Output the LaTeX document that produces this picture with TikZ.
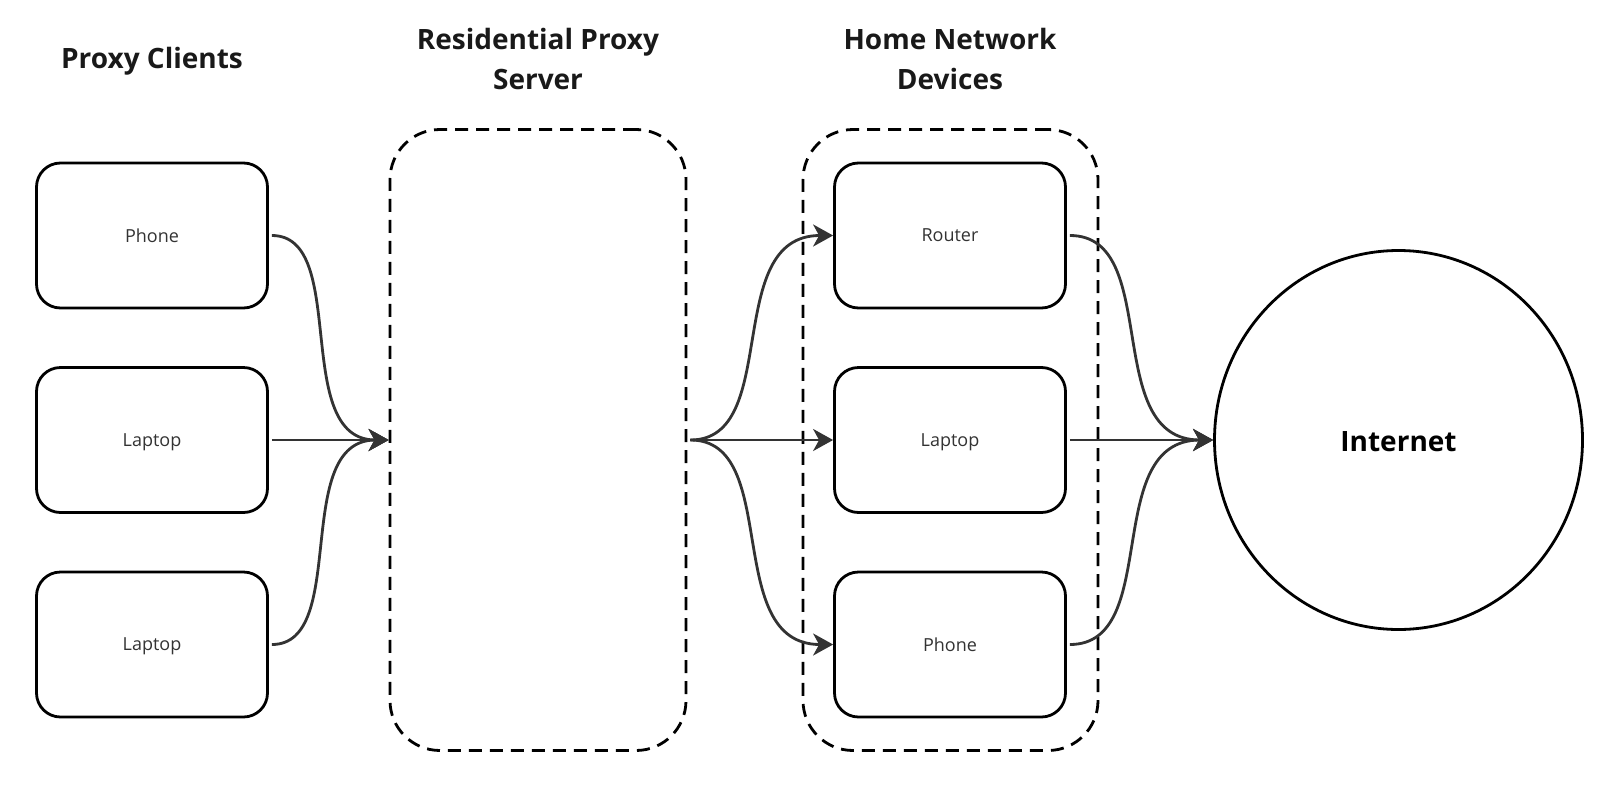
\documentclass[tikz,border=0pt]{standalone}
\usepackage{fontspec}
\setmainfont{Open Sans}
\usetikzlibrary{arrows.meta,shapes.geometric}
\definecolor{ln}{HTML}{333333}
\definecolor{lbl}{HTML}{333333}
\begin{document}
\begin{tikzpicture}[x=1pt,y=-1pt,
  devbox/.style={draw=black,line width=2.8pt,rounded corners=24pt,minimum width=231pt,minimum height=145pt,inner sep=0pt,font=\fontsize{18}{22}\selectfont,text=lbl,text depth=0pt},
  group/.style={draw=black,line width=2.8pt,dash pattern=on 13pt off 8pt,rounded corners=50pt,inner sep=0pt},
  title/.style={font=\fontsize{28}{40}\selectfont\bfseries,align=center,text=black!90},
  conn/.style={draw=ln,line width=2.8pt,-{Stealth[length=20pt,width=22pt,inset=6pt]}},
  every node/.style={inner sep=0pt}
]
\useasboundingbox (0,0) rectangle (1600,806);
% titles
\node[title] (t1) at (152,61) {Proxy Clients};
\node[title] (t2) at (538,59) {Residential Proxy\\Server};
\node[title] (t3) at (950,59) {Home Network\\Devices};
% containers
\node[group,minimum width=296pt,minimum height=621pt] (srv) at (538,440) {};
\node[group,minimum width=295pt,minimum height=621pt] (home) at (950.5,440) {};
% client boxes
\node[devbox] (c1) at (152,235.5) {Phone};
\node[devbox] (c2) at (152,440) {Laptop};
\node[devbox] (c3) at (152,644.5) {Laptop};
% home boxes
\node[devbox] (h1) at (950,235.5) {Router};
\node[devbox] (h2) at (950,440) {Laptop};
\node[devbox] (h3) at (950,644.5) {Phone};
% internet
\node[draw=black,line width=2.8pt,ellipse,minimum width=368pt,minimum height=379pt] (inet) at (1398.5,440) {};
\node[font=\fontsize{28}{30}\selectfont\bfseries] (inetlbl) at ([yshift=-2pt]inet.center) {Internet};
% connectors clients -> server
\draw[conn] ([xshift=3pt]c1.east) .. controls +(78,0) and +(-98,0) .. (srv.west);
\draw[conn] ([xshift=3pt]c2.east) -- (srv.west);
\draw[conn] ([xshift=3pt]c3.east) .. controls +(78,0) and +(-98,0) .. (srv.west);
% server -> home devices
\draw[conn] ([xshift=3pt]srv.east) .. controls +(92,0) and +(-112,0) .. (h1.west);
\draw[conn] ([xshift=3pt]srv.east) -- (h2.west);
\draw[conn] ([xshift=3pt]srv.east) .. controls +(92,0) and +(-112,0) .. (h3.west);
% home devices -> internet
\draw[conn] ([xshift=3pt]h1.east) .. controls +(93,0) and +(-113,0) .. (inet.west);
\draw[conn] ([xshift=3pt]h2.east) -- (inet.west);
\draw[conn] ([xshift=3pt]h3.east) .. controls +(93,0) and +(-113,0) .. (inet.west);
\end{tikzpicture}
\end{document}
